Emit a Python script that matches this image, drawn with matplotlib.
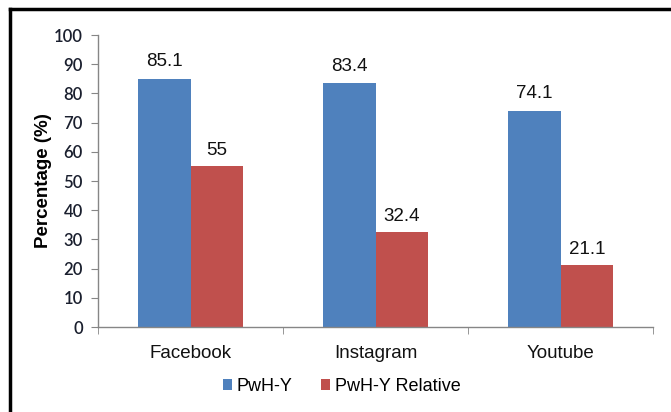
import matplotlib.pyplot as plt
from matplotlib.lines import Line2D
import numpy as np

# chart data
platforms = ['Facebook', 'Instagram', 'Youtube']
pwh_y = [85.1, 83.4, 74.1]
pwh_y_rel = [55, 32.4, 21.1]
rel_labels = ['55', '32.4', '21.1']
series_names = ['PwH-Y', 'PwH-Y Relative']

blue = '#4F81BD'
red = '#C0504D'
axis_grey = '#868686'

fig = plt.figure(figsize=(6.71, 4.12), dpi=100)
ax = fig.add_axes([98/671, 1-327/412, 555/671, 292/412])

x = np.arange(len(platforms))
w = 0.286
b1 = ax.bar(x - w/2, pwh_y, w, color=blue, label=series_names[0])
b2 = ax.bar(x + w/2, pwh_y_rel, w, color=red, label=series_names[1])

for rect, v in zip(b1, pwh_y):
    ax.text(rect.get_x() + rect.get_width()/2, v + 3.0, '%.1f' % v,
            ha='center', va='bottom', fontsize=13.5, family='Liberation Sans', color='#111111')
for rect, v, s in zip(b2, pwh_y_rel, rel_labels):
    ax.text(rect.get_x() + rect.get_width()/2, v + 2.5, s,
            ha='center', va='bottom', fontsize=13.5, family='Liberation Sans', color='#111111')

ax.set_xlim(-0.5, 2.5)
ax.set_ylim(0, 100)
ax.set_yticks(range(0, 101, 10))
ax.set_xticks(x)
ax.set_xticklabels(platforms, fontsize=13.5, family='Liberation Sans', color='#111111')
ax.set_xticks([-0.5, 0.5, 1.5, 2.5], minor=True)
ax.tick_params(axis='x', which='major', length=0, pad=13)
ax.tick_params(axis='x', which='minor', length=5, color=axis_grey, direction='out')
ax.tick_params(axis='y', length=5, color=axis_grey, direction='out', pad=6,
               labelsize=12, labelcolor='#1a1f2e')
for lbl in ax.get_yticklabels():
    lbl.set_family('Lato')
    lbl.set_fontweight('semibold')

for side in ['top', 'right']:
    ax.spines[side].set_visible(False)
for side in ['left', 'bottom']:
    ax.spines[side].set_color(axis_grey)
    ax.spines[side].set_linewidth(1.0)

ax.set_ylabel('Percentage (%)', fontsize=13.5, fontweight='bold', family='Liberation Sans', labelpad=1)

# legend below the plot
fig.legend(handles=[b1, b2], labels=series_names, loc='center', bbox_to_anchor=(0.509, 0.062),
           ncol=2, frameon=False, handlelength=0.5, handleheight=0.5, handletextpad=0.25,
           columnspacing=1.6, prop={'family': 'Liberation Sans', 'size': 13})

# frame lines at top and left
fig.add_artist(Line2D([10/671, 1.0], [1-9/412, 1-9/412], color='black', lw=2.5, transform=fig.transFigure))
fig.add_artist(Line2D([10/671, 10/671], [0, 1-9/412], color='black', lw=2.5, transform=fig.transFigure))

fig.savefig('out.png', dpi=100)
